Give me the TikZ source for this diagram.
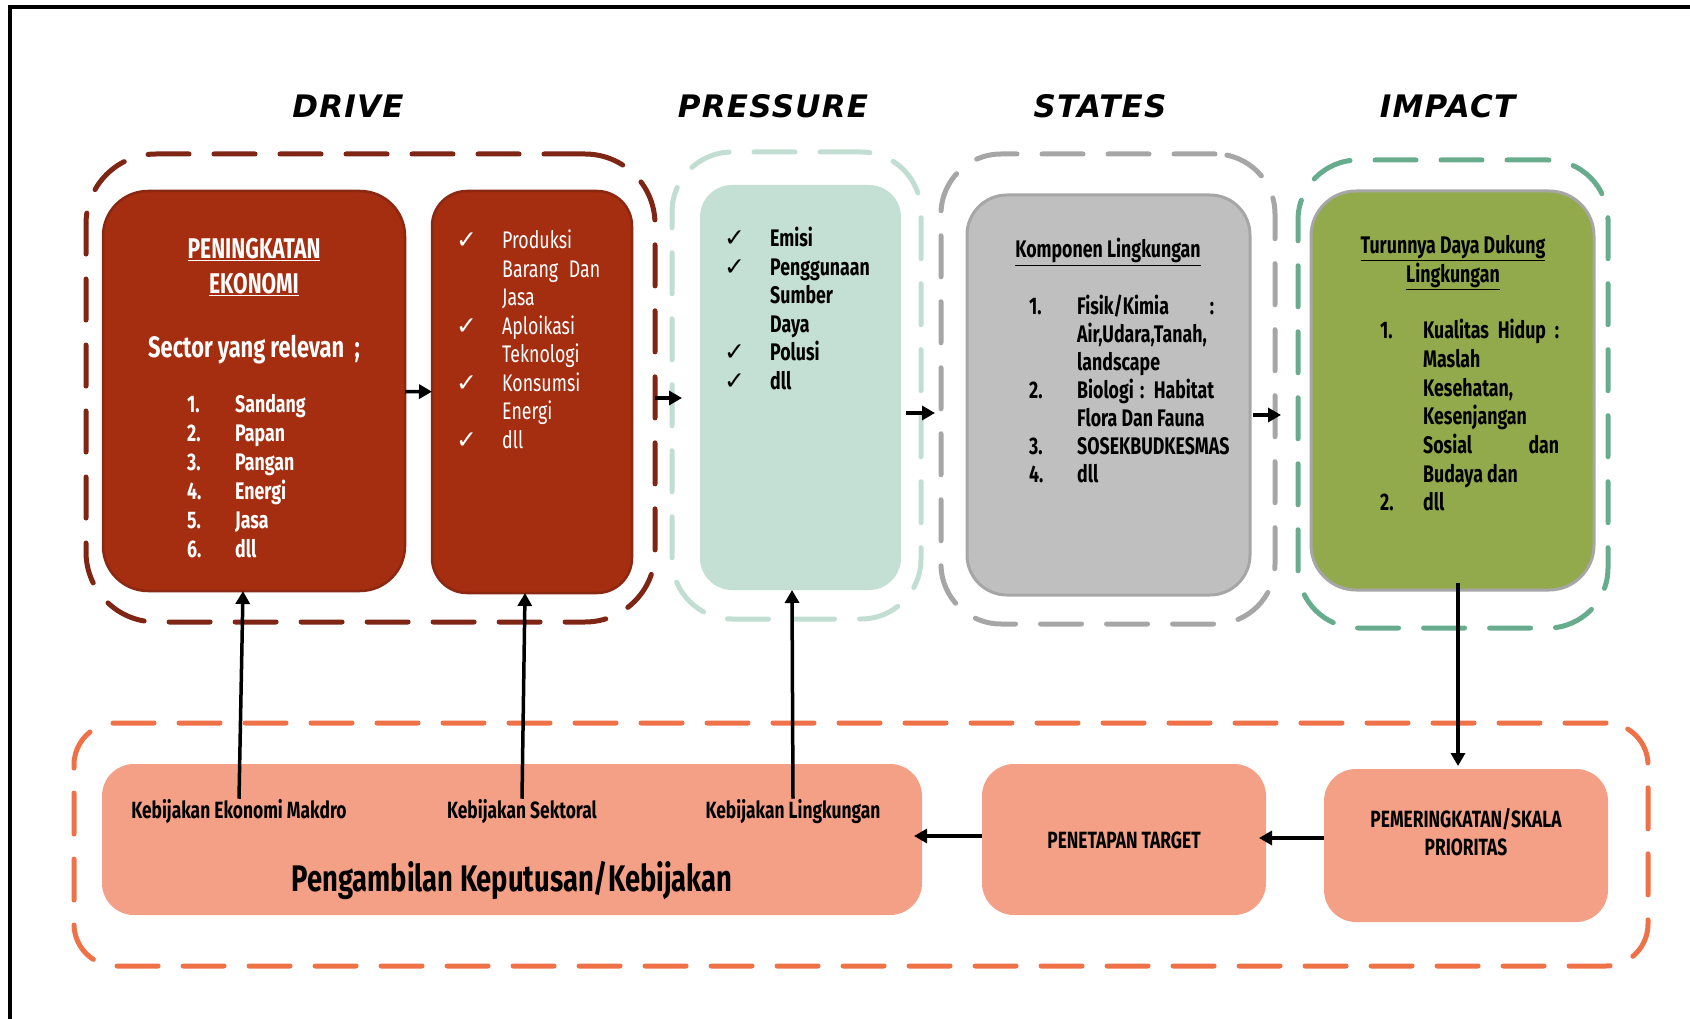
\documentclass[tikz,border=0pt]{standalone}
\usepackage{fontspec}
\usetikzlibrary{arrows.meta,positioning}
\setmainfont{Fira Sans}[FakeStretch=0.74]
\newfontfamily\symb{DejaVu Sans}
\newfontfamily\ttl{DejaVu Sans}[LetterSpace=4]

\definecolor{drvred}{HTML}{A52D10}
\definecolor{drvline}{HTML}{8A2812}
\definecolor{drvdash}{HTML}{7E2514}
\definecolor{prsdash}{HTML}{C2DED2}
\definecolor{prsfill}{HTML}{C4E0D4}
\definecolor{stsdash}{HTML}{A6A6A6}
\definecolor{stsfill}{HTML}{BFBFBF}
\definecolor{impdash}{HTML}{68AC8E}
\definecolor{impfill}{HTML}{93AA4C}
\definecolor{poldash}{HTML}{EE7148}
\definecolor{polfill}{HTML}{F3A087}

\newcommand{\tick}{\makebox[46pt][l]{\symb\mdseries\fontsize{25}{28}\selectfont ✓}}
\newcommand{\ind}{\hspace*{46pt}}
\newcommand{\nr}[2][48pt]{\makebox[#1][l]{#2}}

\begin{document}
\begin{tikzpicture}[x=1pt,y=-1pt,
  dashbox/.style={draw=#1, line width=5pt, line cap=round, dash pattern=on 41pt off 25pt,
    rounded corners=60pt, inner sep=0pt, outer sep=0pt},
  panel/.style={rounded corners=40pt, inner sep=0pt, outer sep=0pt},
  arr/.style={line width=3.5pt, -{Triangle[length=13pt,width=14pt]}},
  txt/.style={inner sep=0pt, align=left, font=\fontsize{24}{28.5}\selectfont},
  title/.style={font=\ttl\bfseries\itshape\fontsize{31}{36}\selectfont}]
\useasboundingbox (0,0) rectangle (1690,1019);

\draw[line width=4pt] (9.5,1019) -- (9.5,7) -- (1690,7);

\foreach \x/\t in {348/DRIVE,773/PRESSURE,1100/STATES,1447.5/IMPACT}
  \node[title] (t\t) at (\x,106) {\t};

% drive
\node[dashbox=drvdash, minimum width=569pt, minimum height=468pt, rounded corners=70pt] (drv) at (370.5,388) {};
\node[panel, fill=drvred, draw=drvline, line width=2.5pt, rounded corners=45pt,
  minimum width=302pt, minimum height=400pt] (eko) at (254,391) {};
\node[panel, fill=drvred, draw=drvline, line width=2.5pt, rounded corners=35pt,
  minimum width=200pt, minimum height=402pt] (sek) at (532,392) {};

\node[txt, align=center, anchor=north, text=white, font=\bfseries\fontsize{28.5}{35}\selectfont]
  (ekot) at (254,238) {\underline{PENINGKATAN}\\\underline{EKONOMI}};
\node[txt, anchor=base, text=white, font=\bfseries\fontsize{29.5}{34}\selectfont]
  (sekt) at (254,357) {Sector yang relevan\ \ ;};
\node[txt, anchor=north west, text=white, font=\bfseries\fontsize{24}{29}\selectfont]
  (ekol) at (187,394) {\nr{1.}Sandang\\\nr{2.}Papan\\\nr{3.}Pangan\\\nr{4.}Energi\\\nr{5.}Jasa\\\nr{6.}dll};
\node[txt, anchor=north west, text=white]
  (sekl) at (456,230) {\tick Produksi\\\ind\makebox[98pt][s]{Barang Dan}\\\ind Jasa\\\tick Aploikasi\\\ind Teknologi\\\tick Konsumsi\\\ind Energi\\\tick dll};

% pressure
\node[dashbox=prsdash, minimum width=249pt, minimum height=467pt] (prs) at (796.5,385.5) {};
\node[panel, fill=prsfill, rounded corners=32pt, minimum width=201pt, minimum height=405pt] (pbox) at (800.5,387.5) {};
\node[txt, anchor=north west, font=\bfseries\fontsize{24}{28.5}\selectfont]
  (pboxl) at (724,227) {\tick Emisi\\\tick Penggunaan\\\ind Sumber\\\ind Daya\\\tick Polusi\\\tick dll};

% states
\node[dashbox=stsdash, minimum width=334pt, minimum height=470pt] (sts) at (1108,389) {};
\node[panel, fill=stsfill, draw=stsdash, line width=3pt, minimum width=283pt, minimum height=400pt] (sbox) at (1108.5,395) {};
\node[txt, anchor=base, font=\bfseries\fontsize{24}{28.5}\selectfont]
  (sboxt) at (1108,258) {\underline{Komponen Lingkungan}};
\node[txt, anchor=north west, font=\bfseries\fontsize{24}{28}\selectfont]
  (sboxl) at (1029,295) {\nr{1.}\makebox[137pt][s]{Fisik/Kimia :}\\\nr{}Air,Udara,Tanah,\\\nr{}landscape\\\nr{2.}\makebox[137pt][s]{Biologi : Habitat}\\\nr{}Flora Dan Fauna\\\nr{3.}SOSEKBUDKESMAS\\\nr{4.}dll};

% impact
\node[dashbox=impdash, minimum width=310pt, minimum height=468pt] (imp) at (1453,394) {};
\node[panel, fill=impfill, draw=stsdash, line width=3pt, rounded corners=45pt,
  minimum width=283pt, minimum height=399pt] (ibox) at (1452.5,390.5) {};
\node[txt, align=center, anchor=north, font=\bfseries\fontsize{24}{29}\selectfont]
  (iboxt) at (1453,235) {\underline{Turunnya Daya Dukung}\\\underline{Lingkungan}};
\node[txt, anchor=north west, font=\bfseries\fontsize{24}{28.7}\selectfont]
  (iboxl) at (1380,319) {\nr[43pt]{1.}\makebox[136pt][s]{Kualitas Hidup :}\\\nr[43pt]{}Maslah\\\nr[43pt]{}Kesehatan,\\\nr[43pt]{}Kesenjangan\\\nr[43pt]{}\makebox[136pt][s]{Sosial dan}\\\nr[43pt]{}Budaya dan\\\nr[43pt]{2.}dll};

% policy
\node[dashbox=poldash, minimum width=1574pt, minimum height=243pt, rounded corners=42pt] (pol) at (861,844.5) {};
\node[panel, fill=polfill, rounded corners=32pt, minimum width=820pt, minimum height=151pt] (pkb) at (512,839.5) {};
\node[panel, fill=polfill, rounded corners=32pt, minimum width=284pt, minimum height=151pt] (pen) at (1124,839.5) {};
\node[panel, fill=polfill, rounded corners=32pt, minimum width=284pt, minimum height=153pt] (pem) at (1466,845.5) {};

\foreach \n/\x/\t in {lb1/239/Kebijakan Ekonomi Makdro,lb2/522/Kebijakan Sektoral,lb3/793/Kebijakan Lingkungan}
  \node[txt, anchor=base, font=\bfseries\fontsize{23.5}{28}\selectfont] (\n) at (\x,818) {\t};
\node[txt, anchor=base, font=\bfseries\fontsize{37}{44}\selectfont] (pkbt) at (512,891) {Pengambilan Keputusan/Kebijakan};
\node[txt, font=\bfseries\fontsize{23.5}{28}\selectfont] (pent) at (1124,840) {PENETAPAN TARGET};
\node[txt, align=center, font=\bfseries\fontsize{23.5}{28}\selectfont] (pemt) at (1466,832) {PEMERINGKATAN/SKALA\\PRIORITAS};

% arrows
\draw[arr] (eko) -- (sek);
\draw[arr] ([yshift=-10pt]drv.east) -- ([yshift=-12.5pt,xshift=10pt]prs.west);
\draw[arr] ([xshift=5pt,yshift=-25.5pt]pbox.east) -- ([xshift=-6pt,yshift=-24pt]sts.west);
\draw[arr] ([xshift=3pt,yshift=-20pt]sbox.east) -- ([xshift=-17pt,yshift=-21pt]imp.west);
\draw[arr] ([xshift=5.5pt,yshift=7pt]ibox.south) -- ([xshift=-8pt,yshift=3pt]pem.north);
\draw[arr] ([yshift=7.5pt]pem.west) -- ([xshift=-7pt,yshift=1.5pt]pen.east);
\draw[arr] ([yshift=3.5pt]pen.west) -- ([xshift=-8pt,yshift=3.5pt]pkb.east);
\foreach \a/\b/\s in {lb1/eko/-11,lb2/sek/-7,lb3/pbox/-8.5}
  \draw[arr] (\a.north) -- ([xshift=\s pt]\b.south);
\end{tikzpicture}
\end{document}
